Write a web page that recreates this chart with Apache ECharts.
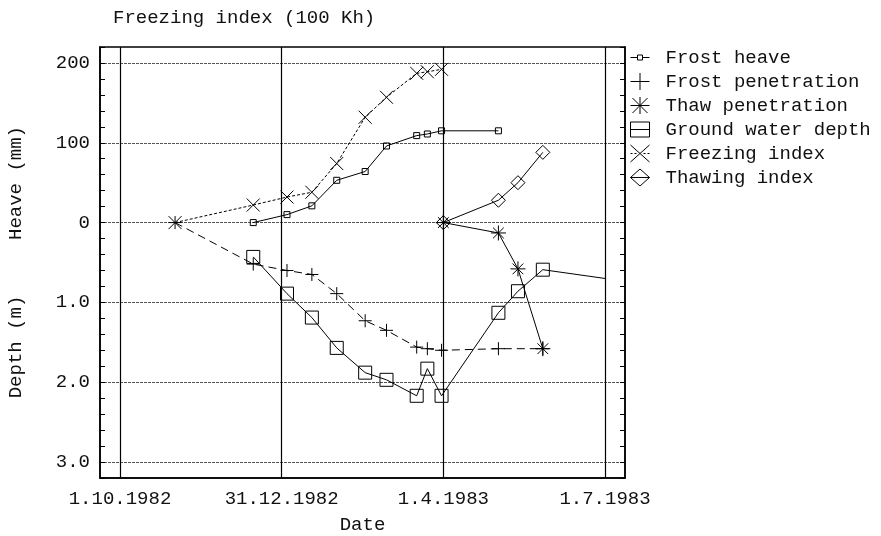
<!DOCTYPE html>
<html>
<head>
<meta charset="utf-8">
<script src="https://cdn.jsdelivr.net/npm/echarts@6/dist/echarts.min.js"></script>
<style>
  html, body { margin: 0; padding: 0; background: #fff; }
  #chart { width: 881px; height: 536px; }
</style>
</head>
<body>
<div id="chart"></div>
<script>
// ---- Axis ticks -------------------------------------------------------
const dateTicks      = ['1982-10-01', '1982-12-31', '1983-04-01', '1983-07-01'];
const dateTickLabels = ['1.10.1982', '31.12.1982', '1.4.1983', '1.7.1983'];
const heaveTicks = [0, 100, 200];   // mm, above the zero line
const depthTicks = [1.0, 2.0, 3.0]; // m, below the zero line

// ---- Frost heave (mm) -------------------------------------------------
const heaveDates  = ['1982-12-15', '1983-01-03', '1983-01-17', '1983-01-31', '1983-02-16',
                     '1983-02-28', '1983-03-17', '1983-03-23', '1983-03-31', '1983-05-02'];
const heaveValues = [0, 10, 21, 53, 64, 96, 109, 111, 115, 115];

// ---- Frost penetration (m) --------------------------------------------
const frostPenDates  = ['1982-11-01', '1982-12-15', '1983-01-03', '1983-01-17', '1983-01-31',
                        '1983-02-16', '1983-02-28', '1983-03-17', '1983-03-23', '1983-03-31',
                        '1983-05-02', '1983-05-27'];
const frostPenValues = [0, 0.52, 0.60, 0.65, 0.89, 1.23, 1.35, 1.56, 1.58, 1.60, 1.58, 1.58];

// ---- Thaw penetration (m) ---------------------------------------------
const thawPenDates  = ['1983-04-01', '1983-05-02', '1983-05-13', '1983-05-27'];
const thawPenValues = [0, 0.13, 0.58, 1.58];

// ---- Ground water depth (m) -------------------------------------------
const waterDates  = ['1982-12-15', '1983-01-03', '1983-01-17', '1983-01-31', '1983-02-16',
                     '1983-02-28', '1983-03-17', '1983-03-23', '1983-03-31', '1983-05-02',
                     '1983-05-13', '1983-05-27', '1983-07-01'];
const waterValues = [0.43, 0.89, 1.19, 1.57, 1.88, 1.97, 2.17, 1.83, 2.17, 1.13, 0.86, 0.59, 0.70];

// ---- Freezing index (100 Kh) ------------------------------------------
const freezeDates  = ['1982-11-01', '1982-12-15', '1983-01-03', '1983-01-17', '1983-01-31',
                      '1983-02-16', '1983-02-28', '1983-03-17', '1983-03-23', '1983-03-31'];
const freezeValues = [0, 22, 32, 38, 74, 132, 157, 187, 189, 192];

// ---- Thawing index (100 Kh) -------------------------------------------
const thawIdxDates  = ['1983-04-01', '1983-05-02', '1983-05-13', '1983-05-27'];
const thawIdxValues = [0, 28, 50, 88];

// ---- Helpers ----------------------------------------------------------
const FONT = '"Liberation Mono", "Courier New", monospace';
const ORIGIN = Date.UTC(1982, 9, 1);
function dayOf(s) {
  const p = s.split('-').map(Number);
  return (Date.UTC(p[0], p[1] - 1, p[2]) - ORIGIN) / 864e5;
}
// one shared vertical scale: 100 mm of heave above zero = 1 m of depth below zero
const DEPTH_SCALE = -100;
function points(dates, values, k) {
  return dates.map((d, i) => [dayOf(d), values[i] * k]);
}

const tickDays = dateTicks.map(dayOf);
const yLabelValues = heaveTicks.concat(depthTicks.map(v => v * DEPTH_SCALE)).sort((a, b) => a - b);
function yLabel(v) {
  if (v >= 0) return String(v);
  return (v / DEPTH_SCALE).toFixed(1);
}

// marker shapes
const SYM_PLUS  = 'path://M0,6L12,6M6,0L6,12';
const SYM_CROSS = 'path://M0,0L12,12M12,0L0,12';
const SYM_STAR  = 'path://M0,7L14,7M7,0L7,14M2,2L12,12M12,2L2,12';

// legend keys (19 x 17 box)
const KEY_HEAVE  = 'path://M0,8.5L7,8.5M7,6L12,6L12,11L7,11ZM12,8.5L19,8.5';
const KEY_PLUS   = 'path://M0,8.5L19,8.5M9.5,0L9.5,17';
const KEY_STAR   = 'path://M0,8.5L19,8.5M9.5,0L9.5,17M2,1L17,16M17,1L2,16';
const KEY_RECT   = 'path://M0,1L19,1L19,16L0,16ZM0,8.5L19,8.5';
const KEY_CROSS  = 'path://M0,0L19,17M19,0L0,17M0,8.5L2,8.5M4,8.5L6,8.5M13,8.5L15,8.5M17,8.5L19,8.5';
const KEY_DIAM   = 'path://M9.5,0L19,8.5L9.5,17L0,8.5ZM0,8.5L19,8.5';

const outline = { color: 'rgba(0,0,0,0)', borderColor: '#000', borderWidth: 1 };

function lineSeries(name, data, symbol, size, dash) {
  return {
    name: name,
    type: 'line',
    data: data,
    symbol: symbol,
    symbolSize: size,
    showAllSymbol: true,
    lineStyle: { color: '#000', width: 1, type: dash },
    itemStyle: outline,
    emphasis: { disabled: true }
  };
}

const waterData = points(waterDates, waterValues, DEPTH_SCALE).map((p, i, arr) =>
  i === arr.length - 1 ? { value: p, symbol: 'none' } : p);

const chart = echarts.init(document.getElementById('chart'));
chart.setOption({
  animation: false,
  backgroundColor: '#fff',
  textStyle: { fontFamily: FONT },
  grid: {
    left: 100, right: 256, top: 47, bottom: 58,
    outerBoundsMode: 'none', containLabel: false,
    show: true, borderColor: '#000', borderWidth: 1.5
  },
  legend: {
    orient: 'vertical',
    left: 630,
    top: 48,
    padding: 0,
    itemWidth: 19,
    itemHeight: 17,
    itemGap: 5,
    selectedMode: false,
    itemStyle: { borderColor: '#000', borderWidth: 1 },
    textStyle: { fontFamily: FONT, fontSize: 19, color: '#111', padding: [0, 0, 0, 11] },
    data: [
      { name: 'Frost heave', icon: KEY_HEAVE },
      { name: 'Frost penetration', icon: KEY_PLUS },
      { name: 'Thaw penetration', icon: KEY_STAR },
      { name: 'Ground water depth', icon: KEY_RECT },
      { name: 'Freezing index', icon: KEY_CROSS },
      { name: 'Thawing index', icon: KEY_DIAM }
    ]
  },
  xAxis: {
    type: 'value',
    min: -11.25,
    max: 284.25,
    name: 'Date',
    nameLocation: 'middle',
    nameGap: 37,
    nameTextStyle: { fontFamily: FONT, fontSize: 19, color: '#111' },
    axisLine: { show: true, onZero: false, lineStyle: { color: '#000', width: 1.5 } },
    axisTick: { show: false, customValues: tickDays },
    axisLabel: {
      customValues: tickDays,
      margin: 11,
      fontFamily: FONT, fontSize: 19, color: '#111',
      formatter: v => dateTickLabels[tickDays.indexOf(v)] || ''
    },
    splitLine: { show: true, lineStyle: { color: '#000', width: 1.2 } }
  },
  yAxis: [
    {
      type: 'value', position: 'left', min: -320, max: 220, interval: 20,
      axisLine: { show: true, onZero: false, lineStyle: { color: '#000', width: 1.5 } },
      axisTick: { show: true, inside: true, length: 5, lineStyle: { color: '#000' } },
      axisLabel: {
        customValues: yLabelValues, margin: 10,
        fontFamily: FONT, fontSize: 19, color: '#111', formatter: yLabel
      },
      splitLine: { show: false }
    },
    {
      type: 'value', position: 'right', min: -320, max: 220, interval: 20,
      axisLine: { show: true, onZero: false, lineStyle: { color: '#000', width: 1.5 } },
      axisTick: { show: true, inside: true, length: 5, lineStyle: { color: '#000' } },
      axisLabel: { show: false },
      splitLine: { show: false }
    },
    {
      type: 'value', position: 'left', min: -320, max: 220,
      axisLine: { show: false, onZero: false },
      axisTick: { show: false, customValues: yLabelValues },
      axisLabel: { show: false, customValues: yLabelValues },
      splitLine: { show: true, lineStyle: { color: '#555', width: 1, type: [3, 1] } }
    }
  ],
  graphic: [
    { type: 'text', x: 113, y: 18, style: { text: 'Freezing index (100 Kh)', font: '19px ' + FONT, fill: '#111', align: 'left', verticalAlign: 'middle' } },
    { type: 'text', x: 16, y: 183, rotation: Math.PI / 2, style: { text: 'Heave (mm)', font: '19px ' + FONT, fill: '#111', align: 'center', verticalAlign: 'middle' } },
    { type: 'text', x: 16, y: 347, rotation: Math.PI / 2, style: { text: 'Depth (m)', font: '19px ' + FONT, fill: '#111', align: 'center', verticalAlign: 'middle' } }
  ],
  series: [
    lineSeries('Frost heave', points(heaveDates, heaveValues, 1), 'rect', 6, 'solid'),
    lineSeries('Frost penetration', points(frostPenDates, frostPenValues, DEPTH_SCALE), SYM_PLUS, 13, [8, 5]),
    lineSeries('Thaw penetration', points(thawPenDates, thawPenValues, DEPTH_SCALE), SYM_STAR, 15, 'solid'),
    lineSeries('Ground water depth', waterData, 'rect', 13, 'solid'),
    lineSeries('Freezing index', points(freezeDates, freezeValues, 1), SYM_CROSS, 13, [3, 2]),
    lineSeries('Thawing index', points(thawIdxDates, thawIdxValues, 1), 'diamond', 14, 'solid')
  ]
});
</script>
</body>
</html>
